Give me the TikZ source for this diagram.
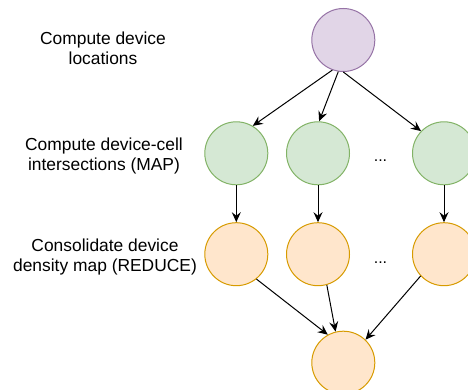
\documentclass[tikz,border=0pt]{standalone}
\usepackage{fontspec}
\setmainfont{Liberation Sans}
\usetikzlibrary{arrows.meta}
\definecolor{pfill}{HTML}{E1D5E7}\definecolor{pline}{HTML}{9673A6}
\definecolor{gfill}{HTML}{D5E8D4}\definecolor{gline}{HTML}{82B366}
\definecolor{ofill}{HTML}{FFE6CC}\definecolor{oline}{HTML}{D79B00}
\tikzset{
  circ/.style={circle, minimum size=63pt, inner sep=0pt, line width=1pt},
  pc/.style={circ, fill=pfill, draw=pline},
  gc/.style={circ, fill=gfill, draw=gline},
  oc/.style={circ, fill=ofill, draw=oline},
  conn/.style={line width=1pt, -{Stealth[length=10pt,width=9pt,inset=3.5pt]}},
  lbl/.style={align=center, font=\fontsize{17.4}{20}\selectfont, inner sep=0pt},
  dots/.style={font=\fontsize{16}{19}\selectfont, inner sep=0pt}
}
\begin{document}
\begin{tikzpicture}[x=1pt,y=-1pt]
\useasboundingbox (0,0) rectangle (468,390);
\begin{scope}
\clip (0,0) rectangle (468,390);
\node[pc] (p) at (343.3,40) {};
\node[gc] (g1) at (236.3,153.3) {};
\node[gc] (g2) at (318,153.3) {};
\node[gc] (g3) at (444,153.3) {};
\node[oc] (o1) at (236.3,254.2) {};
\node[oc] (o2) at (318,254.2) {};
\node[oc] (o3) at (444,254.2) {};
\node[oc] (b) at (343.3,362.7) {};
\node[dots] (d1) at (380.5,161) {...};
\node[dots] (d2) at (380.5,263) {...};
\draw[conn] (p.-110.5) -- (g1.59.5);
\draw[conn] (p.-99.7) -- (g2.88);
\draw[conn] (p.-90) -- (g3.136);
\draw[conn] (g1.south) -- (o1.north);
\draw[conn] (g2.south) -- (o2.north);
\draw[conn] (g3.south) -- (o3.north);
\draw[conn] (o1.-51) -- (b.119.4);
\draw[conn] (o2.-74) -- (b.104.5);
\draw[conn] (o3.-137.8) -- (b.46.6);
\end{scope}
\node[lbl] (t1) at (103,48) {Compute device\\locations};
\node[lbl] (t2) at (104,155.5) {Compute device-cell\\intersections (MAP)};
\node[lbl] (t3) at (105,256.5) {Consolidate device\\density map (REDUCE)};
\end{tikzpicture}
\end{document}
